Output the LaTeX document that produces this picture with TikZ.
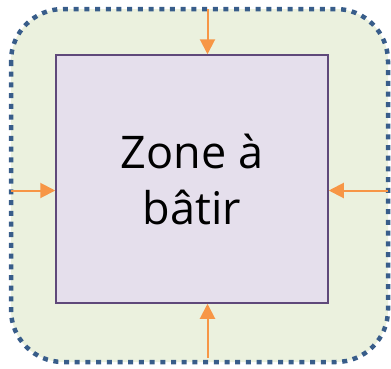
\documentclass[tikz,border=0pt]{standalone}
\usepackage{fontspec}
\setmainfont{Open Sans}
\usetikzlibrary{arrows.meta}
\definecolor{outerfill}{HTML}{EBF1DE}
\definecolor{dotblue}{HTML}{385D8A}
\definecolor{innerfill}{HTML}{E5DFEC}
\definecolor{innerdraw}{HTML}{5F497A}
\definecolor{arroworange}{HTML}{F79646}
\tikzset{
  outerbox/.style={draw=dotblue, fill=outerfill, line width=4.5pt, dash pattern=on 5pt off 5.7pt, rounded corners=52pt},
  innerbox/.style={draw=innerdraw, fill=innerfill, line width=1.5pt, inner sep=0pt, minimum width=272pt, minimum height=248pt, align=center, font=\fontsize{45}{56}\selectfont},
  push/.style={draw=arroworange, line width=2pt, -{Triangle[length=15pt,width=15pt]}}
}
\begin{document}
\begin{tikzpicture}[x=1pt,y=-1pt]
\useasboundingbox (0,0) rectangle (391,368);
\draw[outerbox] (11,9) rectangle (388,362);
\node[innerbox] (zone) at (192,179) {Zone à\\bâtir};
\coordinate (top) at (207.5,9);
\coordinate (bot) at (207.5,358);
\coordinate (lft) at (11,190.5);
\coordinate (rgt) at (388,190.5);
\draw[push] (top) -- (top |- zone.north);
\draw[push] (bot) -- (bot |- zone.south);
\draw[push] (lft) -- (lft -| zone.west);
\draw[push] (rgt) -- (rgt -| zone.east);
\end{tikzpicture}
\end{document}
